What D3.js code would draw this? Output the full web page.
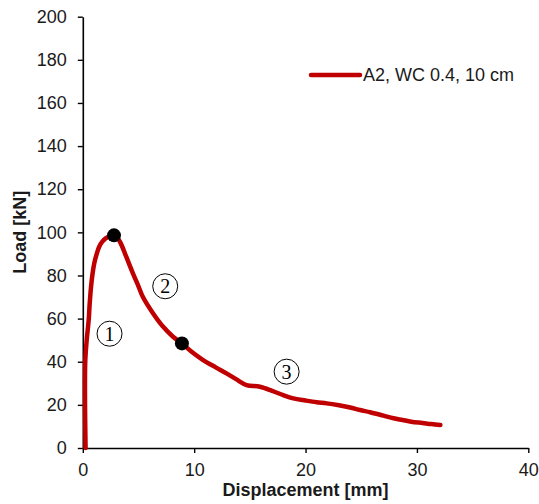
<!DOCTYPE html>
<html>
<head>
<meta charset="utf-8">
<script src="https://cdn.jsdelivr.net/npm/d3@7"></script>
<style>
  html, body { margin: 0; padding: 0; background: #fff; }
  svg { display: block; font-family: Arial, "Liberation Sans", sans-serif; }
</style>
</head>
<body>
<svg id="chart" width="539" height="504"></svg>
<script>
// ---- data ----
const displacement = [0.25, 0.2, 0.22, 0.35, 0.53, 0.62, 0.74, 0.88, 1.03, 1.25, 1.48, 1.75, 2.08, 2.45, 2.8, 3.1, 3.4, 3.9, 4.5, 5.0, 5.4, 6.3, 7.2, 8.1, 8.9, 9.8, 10.8, 11.9, 12.9, 13.8, 14.7, 15.9, 17.0, 18.0, 18.9, 20.0, 21.0, 21.9, 23.0, 24.0, 24.9, 25.8, 27.0, 27.9, 28.7, 29.5, 30.5, 31.3, 32.1];
const load =         [0,    20,  40,   50,   59.4, 67,   74.8, 81,   85.7, 90,   93.4, 95.7, 97.3, 98.3, 98.6, 97.5, 95,  88.7, 81,  75,  70,  62.5, 56.3, 51.6, 48.5, 44.5, 40.8, 37.5, 34.6, 31.8, 29.2, 28.4, 26.5, 24.5, 23,  22,  21.2, 20.7, 19.8, 18.8, 17.6, 16.6, 15,  13.8, 13,  12.2, 11.6, 11.1, 10.7];
const markerX = [2.8, 8.9];
const markerY = [98.6, 48.5];
const stageLabels = ["1", "2", "3"];
const stageX = [2.4, 7.4, 18.3];
const stageY = [53, 75, 35.4];
const xTicks = [0, 10, 20, 30, 40];
const yTicks = [0, 20, 40, 60, 80, 100, 120, 140, 160, 180, 200];
const seriesName = "A2, WC 0.4, 10 cm";
const xTitle = "Displacement [mm]";
const yTitle = "Load [kN]";

// ---- layout ----
const svg = d3.select("#chart");
const x = d3.scaleLinear().domain([0, 40]).range([82.8, 528.3]);
const y = d3.scaleLinear().domain([0, 200]).range([448, 16.7]);
const red = "#c00000";

// axes
const xAxis = d3.axisBottom(x).tickValues(xTicks).tickSize(5).tickSizeOuter(0).tickPadding(10);
const yAxis = d3.axisLeft(y).tickValues(yTicks).tickSize(5).tickSizeOuter(0).tickPadding(11);

const gx = svg.append("g").attr("transform", `translate(0,${y(0)})`).call(xAxis);
const gy = svg.append("g").attr("transform", `translate(${x(0)},0)`).call(yAxis);
[gx, gy].forEach(g => {
  g.select(".domain").attr("stroke", "#000").attr("stroke-width", 1.6);
  g.selectAll(".tick line").attr("stroke", "#000").attr("stroke-width", 1.4);
  g.selectAll(".tick text").attr("fill", "#1a1a1a").style("font-size", "18px")
    .style("font-family", "Arial, 'Liberation Sans', sans-serif");
});

// axis titles
svg.append("text")
  .attr("x", (x(0) + x(40)) / 2).attr("y", 496)
  .attr("text-anchor", "middle")
  .style("font-size", "18px").style("font-weight", "bold").attr("fill", "#1a1a1a")
  .text(xTitle);
svg.append("text")
  .attr("transform", `translate(26,${(y(0) + y(200)) / 2}) rotate(-90)`)
  .attr("text-anchor", "middle")
  .style("font-size", "18px").style("font-weight", "bold").attr("fill", "#1a1a1a")
  .text(yTitle);

// curve
const pts = displacement.map((d, i) => [d, load[i]]);
const line = d3.line().x(d => x(d[0])).y(d => y(d[1])).curve(d3.curveCatmullRom.alpha(0.5));
svg.append("path").datum(pts)
  .attr("d", line)
  .attr("fill", "none").attr("stroke", red).attr("stroke-width", 4.5)
  .attr("stroke-linejoin", "round").attr("stroke-linecap", "round");

// markers
svg.selectAll("circle.marker").data(markerX.map((d, i) => [d, markerY[i]]))
  .enter().append("circle").attr("class", "marker")
  .attr("cx", d => x(d[0])).attr("cy", d => y(d[1])).attr("r", 7)
  .attr("fill", "#000");

// stage labels (circled numbers)
const stg = svg.selectAll("g.stage").data(stageLabels.map((s, i) => ({ s, x: stageX[i], y: stageY[i] })))
  .enter().append("g").attr("class", "stage")
  .attr("transform", d => `translate(${x(d.x)},${y(d.y)})`);
stg.append("circle").attr("r", 12.5).attr("fill", "#fff").attr("stroke", "#000").attr("stroke-width", 1);
stg.append("text").attr("text-anchor", "middle").attr("dy", "0.35em")
  .style("font-family", "'Liberation Serif', 'DejaVu Serif', serif").style("font-size", "20px")
  .attr("fill", "#000").text(d => d.s);

// legend
svg.append("line")
  .attr("x1", 311).attr("x2", 360).attr("y1", 75).attr("y2", 75)
  .attr("stroke", red).attr("stroke-width", 4.5).attr("stroke-linecap", "round");
svg.append("text")
  .attr("x", 363).attr("y", 75).attr("dy", "0.35em")
  .style("font-size", "18px").attr("fill", "#1a1a1a")
  .text(seriesName);
</script>
</body>
</html>
